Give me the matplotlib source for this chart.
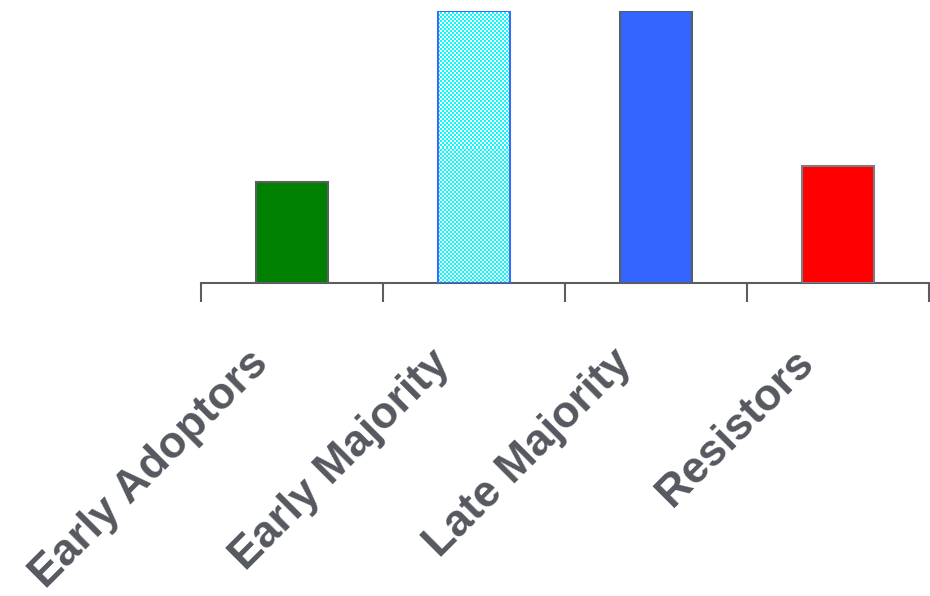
import numpy as np
import matplotlib
matplotlib.use('Agg')
import matplotlib.pyplot as plt
from matplotlib.transforms import ScaledTranslation

categories = ["Early Adoptors", "Early Majority", "Late Majority", "Resistors"]
values = [12.6, 34.0, 34.0, 14.6]
fill_colors = ["#008000", "#00ffff", "#3366ff", "#ff0000"]
edge_colors = ["#5a5d62", "#3a6cf5", "#5a5d62", "#7a7d82"]

fig = plt.figure(figsize=(9.3, 5.96), dpi=100)
ax = fig.add_axes([201 / 930, 1 - 283 / 596, 728 / 930, 272 / 596])

x = np.arange(len(categories))
bars = ax.bar(x, values, width=0.4, color=fill_colors, edgecolor=edge_colors, linewidth=1.5, zorder=3)

ax.set_xlim(-0.5, len(categories) - 0.5)
ax.set_ylim(0, max(values))

for side in ["top", "right", "left"]:
    ax.spines[side].set_visible(False)
ax.spines["bottom"].set_color("#5a5d62")
ax.spines["bottom"].set_linewidth(1.5)
ax.set_yticks([])

ax.set_xticks(np.arange(-0.5, len(categories), 1.0))
ax.set_xticklabels([])
ax.tick_params(axis="x", which="major", length=14, width=1.5, color="#5a5d62", direction="out")
ax.set_xticks(x, minor=True)
ax.set_xticklabels(categories, minor=True, rotation=45, ha="right", rotation_mode="anchor",
                   fontsize=32, fontweight="bold", color="#55595f", family="Liberation Sans")
ax.tick_params(axis="x", which="minor", length=0, pad=50)
shift = ScaledTranslation(-0.45, 0.10, fig.dpi_scale_trans)
for lbl in ax.get_xticklabels(minor=True):
    lbl.set_transform(lbl.get_transform() + shift)

# checkerboard fill for the hatched bar, one array cell per screen pixel
hatched = bars[1]
hatched.set_facecolor("none")
fig.canvas.draw()
bb = hatched.get_window_extent()
pw, ph = int(round(bb.width)), int(round(bb.height))
checker = ((np.indices((ph, pw)) // 2).sum(axis=0) % 2).astype(float)
cmap = matplotlib.colors.ListedColormap(["#00ffff", "white"])
img = ax.imshow(checker, cmap=cmap, interpolation="none", aspect="auto",
                extent=(hatched.get_x(), hatched.get_x() + hatched.get_width(), 0, hatched.get_height()),
                zorder=2)
img.set_clip_path(hatched)
ax.set_xlim(-0.5, len(categories) - 0.5)
ax.set_ylim(0, max(values))

fig.savefig("out.png", dpi=100)
